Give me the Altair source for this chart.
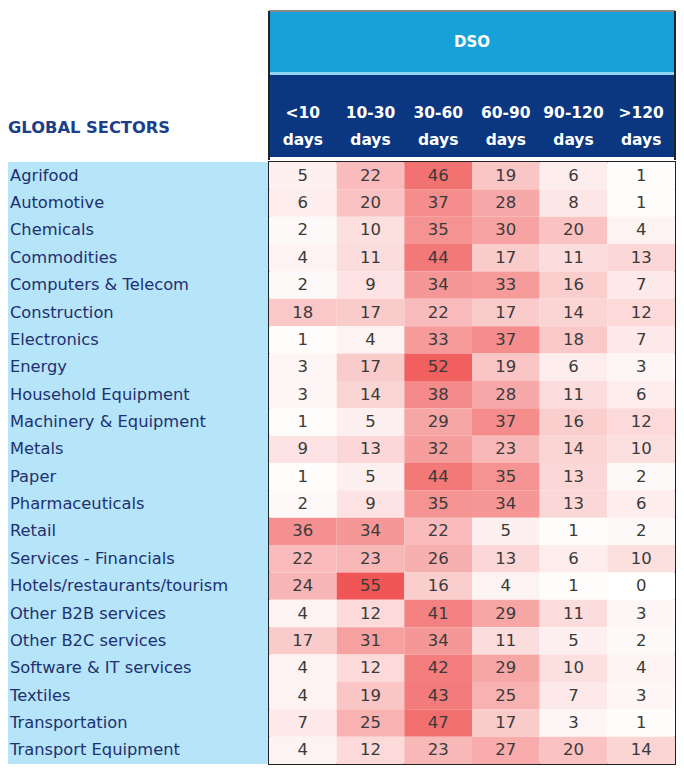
import altair as alt
import pandas as pd

# ---- data ----
sectors = [
    "Agrifood", "Automotive", "Chemicals", "Commodities", "Computers & Telecom",
    "Construction", "Electronics", "Energy", "Household Equipment",
    "Machinery & Equipment", "Metals", "Paper", "Pharmaceuticals", "Retail",
    "Services - Financials", "Hotels/restaurants/tourism", "Other B2B services",
    "Other B2C services", "Software & IT services", "Textiles", "Transportation",
    "Transport Equipment",
]
col_top = ["<10", "10-30", "30-60", "60-90", "90-120", ">120"]
col_unit = "days"

v_lt10 =   [5, 6, 2, 4, 2, 18, 1, 3, 3, 1, 9, 1, 2, 36, 22, 24, 4, 17, 4, 4, 7, 4]
v_10_30 =  [22, 20, 10, 11, 9, 17, 4, 17, 14, 5, 13, 5, 9, 34, 23, 55, 12, 31, 12, 19, 25, 12]
v_30_60 =  [46, 37, 35, 44, 34, 22, 33, 52, 38, 29, 32, 44, 35, 22, 26, 16, 41, 34, 42, 43, 47, 23]
v_60_90 =  [19, 28, 30, 17, 33, 17, 37, 19, 28, 37, 23, 35, 34, 5, 13, 4, 29, 11, 29, 25, 17, 27]
v_90_120 = [6, 8, 20, 11, 16, 14, 18, 6, 11, 16, 14, 13, 13, 1, 6, 1, 11, 5, 10, 7, 3, 20]
v_gt120 =  [1, 1, 4, 13, 7, 12, 7, 3, 6, 12, 10, 2, 6, 2, 10, 0, 3, 2, 4, 3, 1, 14]

cols = [f"{t} {col_unit}" for t in col_top]
series = [v_lt10, v_10_30, v_30_60, v_60_90, v_90_120, v_gt120]

rows = []
for c, vals in zip(cols, series):
    for s, v in zip(sectors, vals):
        rows.append({"sector": s, "col": c, "value": v})
df = pd.DataFrame(rows)
hdr_df = pd.DataFrame({"col": cols, "label": [f"{t}\n{col_unit}" for t in col_top]})
sec_df = pd.DataFrame({"sector": sectors})

# ---- layout ----
W_LEFT, W_RIGHT = 260, 406
H_HEAD, H_BODY = 152, 602

X = alt.X("col:N", sort=cols, axis=None,
          scale=alt.Scale(domain=cols, paddingInner=0, paddingOuter=0))
Y = alt.Y("sector:N", sort=sectors, axis=None,
          scale=alt.Scale(domain=sectors, paddingInner=0, paddingOuter=0))

# body: heatmap
cells = alt.Chart(df).mark_rect().encode(
    x=X, y=Y,
    color=alt.Color("value:Q", legend=None,
                    scale=alt.Scale(domain=[0, 55], range=["#ffffff", "#f05656"],
                                    interpolate="rgb")),
)
nums = alt.Chart(df).mark_text(font="DejaVu Sans", fontSize=16.5, color="#3a3a3a").encode(
    x=X, y=Y, text="value:Q"
)
body = alt.layer(cells, nums).properties(
    width=W_RIGHT, height=H_BODY,
    view=alt.ViewBackground(stroke="#222222", strokeWidth=2),
)

# body: sector labels
labels = alt.Chart(sec_df).mark_text(
    align="left", font="DejaVu Sans", fontSize=16.3, color="#1e3170"
).encode(x=alt.value(2), y=Y, text="sector:N")
left_body = labels.properties(
    width=W_LEFT, height=H_BODY,
    view=alt.ViewBackground(fill="#b6e4f9", strokeWidth=0),
)

# header left
title_df = pd.DataFrame({"t": ["GLOBAL SECTORS"]})
header_left = alt.Chart(title_df).mark_text(
    align="left", font="DejaVu Sans", fontSize=16.3, fontWeight="bold", color="#1d3f88"
).encode(x=alt.value(0), y=alt.value(120), text="t:N").properties(
    width=W_LEFT, height=H_HEAD
)

# header right
one = pd.DataFrame({"t": ["DSO"]})
dso_bg = alt.Chart(one).mark_rect(color="#16a1d8").encode(
    x=alt.value(0), x2=alt.value(W_RIGHT), y=alt.value(3), y2=alt.value(64))
stripe = alt.Chart(one).mark_rect(color="#8fd4f2").encode(
    x=alt.value(0), x2=alt.value(W_RIGHT), y=alt.value(64), y2=alt.value(67))
navy = alt.Chart(one).mark_rect(color="#0b3680").encode(
    x=alt.value(0), x2=alt.value(W_RIGHT), y=alt.value(67), y2=alt.value(149))
top_line = alt.Chart(one).mark_rule(color="#888888", strokeWidth=2).encode(
    x=alt.value(0), x2=alt.value(W_RIGHT), y=alt.value(3))
left_line = alt.Chart(one).mark_rule(color="#222222", strokeWidth=2).encode(
    x=alt.value(0), y=alt.value(3), y2=alt.value(H_HEAD))
right_line = alt.Chart(one).mark_rule(color="#222222", strokeWidth=2).encode(
    x=alt.value(W_RIGHT), y=alt.value(3), y2=alt.value(H_HEAD))
dso_text = alt.Chart(one).mark_text(
    font="DejaVu Sans", fontSize=15, fontWeight="bold", color="white"
).encode(x=alt.value(W_RIGHT / 2), y=alt.value(34), text="t:N")
hdr_text = alt.Chart(hdr_df).mark_text(
    font="DejaVu Sans", fontSize=15.5, fontWeight="bold", color="white",
    lineBreak="\n", lineHeight=27,
).encode(x=X, y=alt.value(105), text="label:N")

header_right = alt.layer(
    dso_bg, stripe, navy, top_line, left_line, right_line, dso_text, hdr_text
).properties(width=W_RIGHT, height=H_HEAD)

top = alt.hconcat(header_left, header_right, spacing=0)
bottom = alt.hconcat(left_body, body, spacing=0)

chart = alt.vconcat(top, bottom, spacing=0).properties(
    padding=0
).configure_view(strokeWidth=0).configure_concat(spacing=0)

chart.save("out.html", embed_options={"renderer": "svg", "actions": False})
